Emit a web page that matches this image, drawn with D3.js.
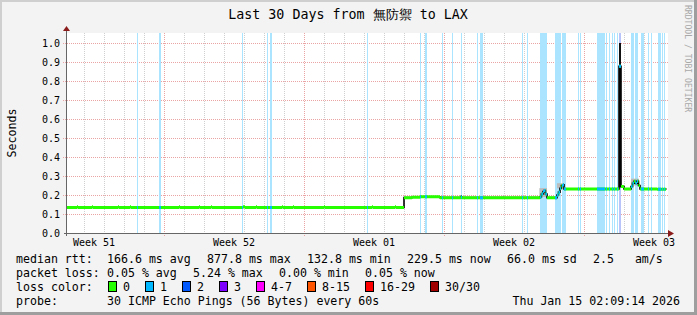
<!DOCTYPE html>
<html>
<head>
<meta charset="utf-8">
<script src="https://cdn.jsdelivr.net/npm/d3@7"></script>
<style>
  body { margin: 0; background: #f3f3f3; }
  text { font-family: "DejaVu Sans Mono", monospace; }
</style>
</head>
<body>
<script>
var title = "Last 30 Days from 無防禦 to LAX";
var weekLabels = ["Week 51", "Week 52", "Week 01", "Week 02", "Week 03"];
var yTicks = [0, 0.1, 0.2, 0.3, 0.4, 0.5, 0.6, 0.7, 0.8, 0.9, 1.0];

// median rtt (seconds), [days since start, value], each value holds until the next point
var medianPts = [
  [0, 0.134], [0.5, 0.138], [0.55, 0.134], [1.25, 0.138], [1.3, 0.134],
  [2.55, 0.138], [2.6, 0.134], [3.15, 0.138], [3.2, 0.134], [5.6, 0.138], [5.65, 0.134],
  [6.6, 0.138], [6.65, 0.134], [7.2, 0.138], [7.25, 0.134], [8.8, 0.138], [8.9, 0.134],
  [9.45, 0.138], [9.5, 0.134], [10.75, 0.138], [10.8, 0.134], [11.3, 0.138], [11.35, 0.134],
  [12.85, 0.138], [12.9, 0.134], [15.25, 0.138], [15.3, 0.134], [16.4, 0.138], [16.45, 0.134],
  [16.85, 0.186], [17.25, 0.188], [17.65, 0.191], [18.65, 0.186], [19.7, 0.189], [19.75, 0.186],
  [23.65, 0.19], [23.72, 0.205], [23.8, 0.218], [23.85, 0.224], [23.92, 0.205], [24.0, 0.186],
  [24.5, 0.2], [24.575, 0.215], [24.65, 0.235], [24.72, 0.25], [24.8, 0.254], [24.85, 0.232],
  [27.6, 0.878], [27.7, 0.245], [27.85, 0.232],
  [28.2, 0.245], [28.275, 0.262], [28.35, 0.272], [28.425, 0.262], [28.5, 0.272], [28.575, 0.25], [28.65, 0.232],
  [29.5, 0.23], [29.95, 0.2295]
];

// periods with packet loss: [start day, length in days, loss level]
var lossBands = [
  [3.5, 0.05, 1], [4.6, 0.1, 1], [8.75, 0.05, 1], [10.0, 0.05, 1], [10.15, 0.1, 1],
  [15.0, 0.05, 1], [17.65, 0.05, 1], [17.9, 0.1, 1], [18.75, 0.05, 1], [19.25, 0.05, 1],
  [19.7, 0.05, 1], [20.5, 0.05, 1], [20.65, 0.15, 1], [22.75, 0.05, 1], [23.0, 0.05, 1],
  [23.65, 0.35, 1], [24.4, 0.3, 1], [24.75, 0.2, 1], [25.55, 0.05, 1], [25.65, 0.05, 1],
  [26.5, 0.4, 1], [26.95, 0.05, 1], [27.1, 0.05, 1], [27.25, 0.05, 1], [27.35, 0.05, 1],
  [27.5, 0.05, 1], [27.6, 0.1, 2], [28.2, 0.15, 1], [28.4, 0.15, 1], [28.7, 0.15, 1],
  [29.05, 0.05, 1], [29.2, 0.05, 1], [29.55, 0.15, 1], [29.75, 0.05, 1], [29.85, 0.05, 1]
];

// smoke (spread of the pings): [from day, to day, low, high, shade]
var smoke = [
  [19.68, 19.75, 0.19, 0.2, "#222"],
  [21.78, 21.85, 0.19, 0.197, "#bbb"],
  [23.62, 24.0, 0.19, 0.236, "#bbb"],
  [24.5, 24.85, 0.235, 0.262, "#bbb"],
  [27.6, 27.7, 0.24, 1.0, "#111"],
  [28.2, 28.6, 0.25, 0.286, "#bbb"]
];

var rttStats = ["166.6 ms avg", "877.8 ms max", "132.8 ms min", "229.5 ms now", "66.0 ms sd", "2.5   am/s"];
var lossStats = ["0.05 % avg", "5.24 % max", "0.00 % min", "0.05 % now"];
var lossLabels = ["0", "1", "2", "3", "4-7", "8-15", "16-29", "30/30"];
var lossColors = ["#26ff00", "#00b8ff", "#0059ff", "#7e00ff", "#ff00ff", "#ff5500", "#ff0000", "#a10000"];
var bandColors = { 1: "#aae4ff", 2: "#b8c4fa" };
var probeText = "30 ICMP Echo Pings (56 Bytes) every 60s";
var stamp = "Thu Jan 15 02:09:14 2026";

var W = 697, H = 315;
var t0 = Date.UTC(2025, 11, 16, 3, 36);
var DAY = 864e5;
function day(d) { return new Date(t0 + d * DAY); }
function keep(s) { return s.replace(/ /g, "\u00a0"); }

var x = d3.scaleUtc().domain([day(0), day(30)]).range([67, 667]);
var y = d3.scaleLinear().domain([0, 200 / 190]).range([233, 33]);

var svg = d3.select("body").append("svg")
  .attr("width", W).attr("height", H);

svg.append("rect").attr("width", W).attr("height", H).attr("fill", "#f3f3f3");
// frame shade
svg.append("rect").attr("x", 0).attr("y", 0).attr("width", W).attr("height", 2).attr("fill", "#cfcfcf");
svg.append("rect").attr("x", 0).attr("y", 0).attr("width", 2).attr("height", H).attr("fill", "#cfcfcf");
svg.append("rect").attr("x", 0).attr("y", H - 3).attr("width", W).attr("height", 3).attr("fill", "#9e9e9e");
svg.append("rect").attr("x", W - 3).attr("y", 0).attr("width", 3).attr("height", H).attr("fill", "#9e9e9e");

svg.append("rect").attr("x", 67).attr("y", 33).attr("width", 601).attr("height", 200).attr("fill", "#fff");

// vertical grid
var days = d3.utcDay.range(day(0), day(30));
var sundays = d3.utcSunday.range(day(0), day(37));
svg.append("g").selectAll("line").data(days.filter(function(d) { return d.getUTCDay() !== 0; }))
  .enter().append("line")
  .attr("x1", function(d) { return Math.round(x(d)) + 0.5; })
  .attr("x2", function(d) { return Math.round(x(d)) + 0.5; })
  .attr("y1", 33).attr("y2", 235)
  .attr("stroke", "#cfcfcf").attr("stroke-dasharray", "1,1");
svg.append("g").selectAll("line").data(sundays.filter(function(d) { return d < day(30); }))
  .enter().append("line")
  .attr("x1", function(d) { return Math.round(x(d)) + 0.5; })
  .attr("x2", function(d) { return Math.round(x(d)) + 0.5; })
  .attr("y1", 33).attr("y2", 236)
  .attr("stroke", "#eaa4a4").attr("stroke-dasharray", "1,1");

// horizontal grid
svg.append("g").selectAll("line").data(yTicks.slice(1))
  .enter().append("line")
  .attr("x1", 63).attr("x2", 668)
  .attr("y1", function(d) { return Math.round(y(d)) + 0.5; })
  .attr("y2", function(d) { return Math.round(y(d)) + 0.5; })
  .attr("stroke", "#eaa4a4").attr("stroke-dasharray", "1,1");

// loss background
svg.append("g").selectAll("rect").data(lossBands)
  .enter().append("rect")
  .attr("x", function(d) { return Math.round(x(day(d[0]))); })
  .attr("width", function(d) { return Math.max(1, Math.round(x(day(d[0] + d[1]))) - Math.round(x(day(d[0])))); })
  .attr("y", 33).attr("height", 200)
  .attr("fill", function(d) { return bandColors[d[2]]; });

// smoke
svg.append("g").selectAll("rect").data(smoke)
  .enter().append("rect")
  .attr("x", function(d) { return x(day(d[0])); })
  .attr("width", function(d) { return x(day(d[1])) - x(day(d[0])); })
  .attr("y", function(d) { return y(d[3]); })
  .attr("height", function(d) { return y(d[2]) - y(d[3]); })
  .attr("fill", function(d) { return d[4]; });

// median: dark step connectors under the coloured segments
var stepLine = d3.line()
  .x(function(d) { return x(day(d[0])); })
  .y(function(d) { return y(d[1]); })
  .curve(d3.curveStepAfter);
svg.append("path").datum(medianPts)
  .attr("d", stepLine)
  .attr("fill", "none").attr("stroke", "#000").attr("stroke-width", 1.6);

var segs = "";
for (var i = 0; i < medianPts.length - 1; i++) {
  segs += "M" + x(day(medianPts[i][0])) + "," + y(medianPts[i][1]) + "H" + x(day(medianPts[i + 1][0]));
}
svg.append("path").attr("d", segs)
  .attr("fill", "none").attr("stroke", lossColors[0]).attr("stroke-width", 3);

var clip = svg.append("clipPath").attr("id", "lossclip");
clip.selectAll("rect").data(lossBands)
  .enter().append("rect")
  .attr("x", function(d) { return Math.round(x(day(d[0]))); })
  .attr("width", function(d) { return Math.max(1, Math.round(x(day(d[0] + d[1]))) - Math.round(x(day(d[0])))); })
  .attr("y", 30).attr("height", 210);
svg.append("path").attr("d", segs).attr("clip-path", "url(#lossclip)")
  .attr("fill", "none").attr("stroke", lossColors[1]).attr("stroke-width", 3);

// axes
svg.append("line").attr("x1", 64).attr("x2", 670).attr("y1", 233.5).attr("y2", 233.5)
  .attr("stroke", "#666");
svg.append("line").attr("x1", 66.5).attr("x2", 66.5).attr("y1", 236).attr("y2", 30)
  .attr("stroke", "#666");
svg.append("path").attr("d", "M668,230L674,233.5L668,237Z").attr("fill", "#8b1c1c");
svg.append("path").attr("d", "M63,31L66.5,26L70,31Z").attr("fill", "#8b1c1c");

// y tick labels
svg.append("g").selectAll("text").data(yTicks)
  .enter().append("text")
  .attr("x", 60).attr("y", function(d) { return Math.round(y(d)) + 0.5; })
  .attr("dy", "0.36em")
  .attr("text-anchor", "end")
  .style("font-size", "10px")
  .text(function(d) { return d.toFixed(1); });

// week labels (centred mid-week)
svg.append("g").selectAll("text").data(weekLabels)
  .enter().append("text")
  .attr("x", function(d, i) { return x(new Date(+sundays[i] - 3.5 * DAY)); })
  .attr("y", 246)
  .attr("text-anchor", "middle")
  .style("font-size", "10px")
  .text(function(d) { return d; });

// title and side texts
svg.append("text").attr("x", 348).attr("y", 19).attr("text-anchor", "middle")
  .style("font-size", "13.33px").text(title);
svg.append("text").attr("transform", "translate(16,133) rotate(-90)")
  .attr("text-anchor", "middle").style("font-size", "11.6px").text("Seconds");
svg.append("text").attr("transform", "translate(685,5) rotate(90)")
  .style("font-size", "8.1px").attr("fill", "#a8a8a8").text("RRDTOOL / TOBI OETIKER");

// legend
var lg = svg.append("g").style("font-size", "11.6px");
lg.append("text").attr("x", 16).attr("y", 263).text("median rtt:");
lg.selectAll(".rtt").data(rttStats).enter().append("text").attr("class", "rtt")
  .attr("x", function(d, i) { return i < 5 ? 107 + i * 100 : 593; })
  .attr("y", 263).text(function(d) { return keep(d); });

lg.append("text").attr("x", 16).attr("y", 277).text("packet loss:");
lg.selectAll(".loss").data(lossStats).enter().append("text").attr("class", "loss")
  .attr("x", function(d, i) { return 107 + i * 86; })
  .attr("y", 277).text(function(d) { return d; });

lg.append("text").attr("x", 16).attr("y", 291).text("loss color:");
var lx = 108;
lossLabels.forEach(function(lab, i) {
  lg.append("rect").attr("x", lx + 0.5).attr("y", 281.5).attr("width", 8).attr("height", 10)
    .attr("fill", lossColors[i]).attr("stroke", "#000");
  lg.append("text").attr("x", lx + 15).attr("y", 291).text(lab);
  lx += 15 + lab.length * 7 + 15;
});

lg.append("text").attr("x", 16).attr("y", 305).text("probe:");
lg.append("text").attr("x", 107).attr("y", 305).text(probeText);
lg.append("text").attr("x", 680).attr("y", 305).attr("text-anchor", "end").text(stamp);
</script>
</body>
</html>
